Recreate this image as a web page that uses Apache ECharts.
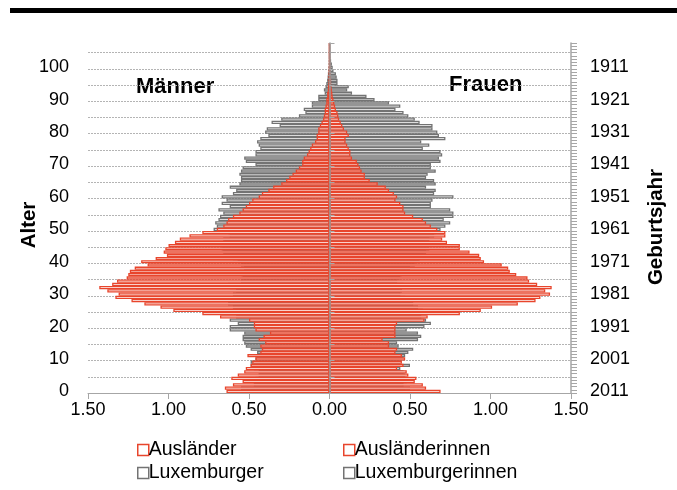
<!DOCTYPE html>
<html lang="de">
<head>
<meta charset="UTF-8">
<title>Bevölkerungspyramide</title>
<script src="https://cdn.jsdelivr.net/npm/echarts@6/dist/echarts.min.js"></script>
<style>
  html, body { margin: 0; padding: 0; background: #fff; }
  #chart { width: 677px; height: 490px; }
</style>
</head>
<body>
<div id="chart"></div>
<script>
// Alter 0..107 (Kategorien), Geburtsjahr = 2011 - Alter
var ages = [];
var years = [];
for (var i = 0; i <= 107; i++) { ages.push(String(i)); years.push(String(2011 - i)); }

var xTicks = [-1.5, -1, -0.5, 0, 0.5, 1, 1.5];

// Anteile in %, Index = Alter
var auslaender = [
  0.64, 0.65, 0.60, 0.54, 0.61, 0.57, 0.53, 0.52, 0.49, 0.48,
  0.46, 0.51, 0.43, 0.42, 0.43, 0.40, 0.44, 0.41, 0.37, 0.46,
  0.47, 0.47, 0.50, 0.68, 0.79, 0.97, 1.05, 1.15, 1.23, 1.33,
  1.31, 1.38, 1.43, 1.35, 1.32, 1.26, 1.25, 1.24, 1.21, 1.13,
  1.17, 1.08, 1.01, 1.03, 1.02, 1.00, 0.96, 0.93, 0.87, 0.79,
  0.70, 0.66, 0.64, 0.63, 0.60, 0.56, 0.54, 0.52, 0.50, 0.48,
  0.44, 0.42, 0.38, 0.35, 0.30, 0.27, 0.25, 0.23, 0.21, 0.19,
  0.17, 0.17, 0.16, 0.14, 0.13, 0.12, 0.11, 0.09, 0.08, 0.08,
  0.07, 0.07, 0.06, 0.05, 0.04, 0.035, 0.03, 0.03, 0.025, 0.02,
  0.02, 0.015, 0.015, 0.01, 0.01, 0.008, 0.006, 0.005, 0.004, 0.003,
  0.002, 0.001, 0.001, 0, 0, 0, 0, 0
];
var luxemburger = [
  0.49, 0.55, 0.47, 0.47, 0.46, 0.44, 0.44, 0.47, 0.49, 0.49,
  0.46, 0.44, 0.45, 0.49, 0.52, 0.53, 0.54, 0.54, 0.53, 0.62,
  0.62, 0.57, 0.62, 0.58, 0.55, 0.56, 0.60, 0.63, 0.62, 0.58,
  0.60, 0.58, 0.62, 0.63, 0.55, 0.54, 0.55, 0.56, 0.53, 0.55,
  0.57, 0.60, 0.62, 0.66, 0.67, 0.63, 0.65, 0.66, 0.62, 0.63,
  0.72, 0.70, 0.71, 0.69, 0.68, 0.66, 0.69, 0.62, 0.67, 0.64,
  0.67, 0.60, 0.58, 0.62, 0.56, 0.55, 0.55, 0.56, 0.55, 0.54,
  0.46, 0.52, 0.53, 0.46, 0.46, 0.43, 0.44, 0.45, 0.43, 0.38,
  0.40, 0.39, 0.31, 0.36, 0.30, 0.19, 0.15, 0.16, 0.11, 0.11,
  0.07, 0.07, 0.03, 0.035, 0.025, 0.02, 0.015, 0.012, 0.01, 0.008,
  0.006, 0.004, 0.003, 0.002, 0.001, 0.001, 0, 0
];
var auslaenderinnen = [
  0.69, 0.60, 0.58, 0.53, 0.54, 0.49, 0.48, 0.42, 0.46, 0.45,
  0.47, 0.45, 0.41, 0.42, 0.37, 0.37, 0.33, 0.41, 0.41, 0.41,
  0.41, 0.42, 0.59, 0.61, 0.81, 0.94, 1.01, 1.17, 1.28, 1.31,
  1.37, 1.34, 1.38, 1.29, 1.24, 1.23, 1.16, 1.12, 1.11, 1.07,
  0.96, 0.94, 0.93, 0.87, 0.81, 0.81, 0.73, 0.70, 0.72, 0.72,
  0.67, 0.63, 0.60, 0.58, 0.52, 0.47, 0.46, 0.46, 0.44, 0.41,
  0.42, 0.40, 0.37, 0.35, 0.30, 0.25, 0.22, 0.22, 0.20, 0.19,
  0.18, 0.17, 0.14, 0.13, 0.13, 0.12, 0.11, 0.10, 0.10, 0.12,
  0.11, 0.09, 0.08, 0.07, 0.06, 0.055, 0.05, 0.04, 0.035, 0.03,
  0.025, 0.02, 0.018, 0.015, 0.012, 0.01, 0.01, 0.008, 0.006, 0.005,
  0.004, 0.003, 0.002, 0.001, 0, 0, 0, 0
];
var luxemburgerinnen = [
  0.47, 0.50, 0.46, 0.48, 0.45, 0.47, 0.46, 0.44, 0.50, 0.44,
  0.46, 0.47, 0.49, 0.52, 0.43, 0.42, 0.55, 0.57, 0.55, 0.48,
  0.59, 0.63, 0.60, 0.57, 0.56, 0.58, 0.55, 0.52, 0.50, 0.47,
  0.44, 0.45, 0.43, 0.46, 0.42, 0.44, 0.45, 0.42, 0.50, 0.53,
  0.56, 0.55, 0.58, 0.60, 0.62, 0.57, 0.59, 0.62, 0.65, 0.66,
  0.69, 0.72, 0.75, 0.71, 0.77, 0.77, 0.75, 0.63, 0.63, 0.64,
  0.77, 0.65, 0.66, 0.60, 0.66, 0.65, 0.60, 0.61, 0.66, 0.63,
  0.63, 0.69, 0.68, 0.70, 0.69, 0.58, 0.62, 0.57, 0.72, 0.68,
  0.67, 0.64, 0.64, 0.56, 0.53, 0.49, 0.46, 0.41, 0.44, 0.37,
  0.28, 0.23, 0.14, 0.11, 0.12, 0.05, 0.05, 0.045, 0.04, 0.025,
  0.02, 0.015, 0.01, 0.005, 0.004, 0.002, 0.001, 0
];

var FONT = '"Liberation Sans", Arial, sans-serif';
var RED = '#e8452c';
var GREY = '#737373';
var AXIS = '#a6a6a6';

function barSeries(name, values, sign, color) {
  return {
    name: name,
    type: 'bar',
    yAxisIndex: 0,
    barGap: '-100%',
    barCategoryGap: '0%',
    data: values.map(function (v) { return sign * v; }),
    itemStyle: { color: '#fff', borderColor: color, borderWidth: 1.3 },
    emphasis: { disabled: true },
    silent: true
  };
}

var chart = echarts.init(document.getElementById('chart'), null, { renderer: 'canvas' });

var option = {
  animation: false,
  backgroundColor: '#fff',
  textStyle: { fontFamily: FONT },
  grid: { left: 88, right: 106, top: 43, bottom: 97, containLabel: false, outerBoundsMode: 'none' },
  xAxis: {
    type: 'value',
    min: xTicks[0],
    max: xTicks[xTicks.length - 1],
    interval: 0.5,
    axisLine: { show: true, onZero: false, lineStyle: { color: AXIS, width: 1 } },
    axisTick: { show: true, length: 6, lineStyle: { color: AXIS } },
    axisLabel: {
      fontSize: 18, color: '#000', fontFamily: FONT, margin: 8,
      formatter: function (v) { return Math.abs(v).toFixed(2); }
    },
    splitLine: { show: false }
  },
  yAxis: [
    {
      type: 'category',
      data: ages,
      position: 'left',
      axisLine: { show: false, onZero: false },
      axisTick: { show: false },
      axisLabel: { interval: 9, margin: 19, fontSize: 18, color: '#000', fontFamily: FONT },
      splitLine: {
        show: true, interval: 4, showMinLine: false, showMaxLine: false,
        lineStyle: { color: '#b4b4b4', type: [2, 1], width: 1 }
      },
      name: 'Alter',
      nameLocation: 'middle',
      nameRotate: 90,
      nameGap: 48,
      nameMoveOverlap: false,
      nameTextStyle: { fontSize: 20.5, fontWeight: 'bold', color: '#000', fontFamily: FONT, padding: [0, 14, 0, 0] }
    },
    {
      type: 'category',
      data: years,
      position: 'right',
      axisLine: { show: true, onZero: false, lineStyle: { color: AXIS, width: 1.5 } },
      axisTick: { show: true, interval: 0, length: 6, lineStyle: { color: AXIS } },
      axisLabel: { interval: 9, margin: 19, fontSize: 18, color: '#000', fontFamily: FONT },
      splitLine: { show: false },
      name: 'Geburtsjahr',
      nameLocation: 'middle',
      nameRotate: 90,
      nameGap: 75,
      nameMoveOverlap: false,
      nameTextStyle: { fontSize: 20.5, fontWeight: 'bold', color: '#000', fontFamily: FONT, padding: [0, 18, 0, 0] }
    },
    {
      type: 'category',
      data: ages,
      position: 'left',
      z: 3,
      axisLine: { show: true, onZero: true, lineStyle: { color: '#9a9a9a', width: 1.5 } },
      axisTick: { show: true, interval: 4, inside: true, length: 5, lineStyle: { color: AXIS } },
      axisLabel: { show: false },
      splitLine: { show: false }
    }
  ],
  legend: [
    {
      data: ['Ausländer', 'Luxemburger'],
      orient: 'vertical',
      left: 132, top: 435,
      itemWidth: 11, itemHeight: 11, itemGap: 3,
      icon: 'rect',
      itemStyle: { color: '#fff', borderWidth: 1.5 },
      textStyle: { fontSize: 19.5, color: '#000', fontFamily: FONT, padding: [0, 0, 0, -5] },
      selectedMode: false
    },
    {
      data: ['Ausländerinnen', 'Luxemburgerinnen'],
      orient: 'vertical',
      left: 338, top: 435,
      itemWidth: 11, itemHeight: 11, itemGap: 3,
      icon: 'rect',
      itemStyle: { color: '#fff', borderWidth: 1.5 },
      textStyle: { fontSize: 19.5, color: '#000', fontFamily: FONT, padding: [0, 0, 0, -5] },
      selectedMode: false
    }
  ],
  graphic: [
    { type: 'rect', shape: { x: 10, y: 8, width: 667, height: 5 }, style: { fill: '#000' }, silent: true },
    { type: 'text', left: 136, top: 76, style: { text: 'Männer', font: 'bold 22px ' + FONT, fill: '#000' }, silent: true },
    { type: 'text', left: 449, top: 74, style: { text: 'Frauen', font: 'bold 22px ' + FONT, fill: '#000' }, silent: true }
  ],
  series: [
    barSeries('Luxemburger', luxemburger, -1, GREY),
    barSeries('Luxemburgerinnen', luxemburgerinnen, 1, GREY),
    barSeries('Ausländer', auslaender, -1, RED),
    barSeries('Ausländerinnen', auslaenderinnen, 1, RED)
  ]
};

chart.setOption(option);
</script>
</body>
</html>
